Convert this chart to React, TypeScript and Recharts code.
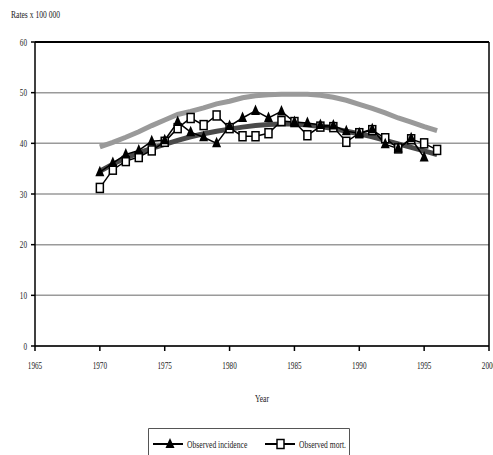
import {
  LineChart,
  Line,
  XAxis,
  YAxis,
  CartesianGrid,
  Legend,
  ReferenceLine,
} from "recharts";

const years = [
  1970, 1971, 1972, 1973, 1974, 1975, 1976, 1977, 1978, 1979, 1980, 1981, 1982,
  1983, 1984, 1985, 1986, 1987, 1988, 1989, 1990, 1991, 1992, 1993, 1994, 1995,
  1996,
];
const observedIncidence = [
  34.3, 36.1, 37.8, 38.6, 40.4, 40.6, 44.2, 42.2, 41.2, 40.0, 43.4, 45.0, 46.4,
  45.0, 46.3, 44.2, 44.0, 43.6, 43.5, 42.4, 42.0, 42.8, 39.8, 39.0, 41.0, 37.2,
  null,
];
const observedMortality = [
  31.2, 34.8, 36.5, 37.3, 38.6, 40.3, 43.0, 45.0, 43.6, 45.5, 43.0, 41.4, 41.4,
  42.0, 44.4, 44.2, 41.6, 43.3, 43.2, 40.3, 42.0, 42.6, 41.0, 39.0, 40.8, 40.0,
  38.7,
];
// thick grey curves (not in the legend)
const smoothDark = [
  34.5, 35.9, 37.1, 38.1, 39.0, 39.8, 40.6, 41.3, 41.9, 42.4, 42.8, 43.2, 43.5,
  43.7, 43.8, 43.8, 43.6, 43.3, 42.9, 42.4, 41.9, 41.3, 40.6, 39.9, 39.2, 38.5,
  37.8,
];
const smoothLight = [
  39.3, 40.2, 41.2, 42.3, 43.5, 44.6, 45.7, 46.3, 47.0, 47.8, 48.3, 49.0, 49.4,
  49.6, 49.7, 49.7, 49.7, 49.5, 49.1, 48.5, 47.7, 46.9, 46.0, 45.0, 44.2, 43.3,
  42.5,
];
const xTicks = [1965, 1970, 1975, 1980, 1985, 1990, 1995, 2000];
const yTicks = [0, 10, 20, 30, 40, 50, 60];
const legendOrder = ["incidence", "mortality"];

const data = years.map((year, i) => ({
  year,
  incidence: observedIncidence[i],
  mortality: observedMortality[i],
  dark: smoothDark[i],
  light: smoothLight[i],
}));

const FONT = "'Liberation Serif', 'Times New Roman', serif";
// the original text is horizontally squeezed
const SQUEEZE = 3.6;

function XTick(props: any) {
  const { x, y, payload } = props;
  const s = String(payload.value);
  return (
    <text x={x} y={y} dy="0.71em" textAnchor="middle" fontSize={10} fontFamily={FONT} fill="#222"
      textLength={s.length * SQUEEZE} lengthAdjust="spacingAndGlyphs">
      {s}
    </text>
  );
}

function YTick(props: any) {
  const { x, y, payload } = props;
  const s = String(payload.value);
  return (
    <text x={x} y={y} dy="0.355em" textAnchor="end" fontSize={10} fontFamily={FONT} fill="#222"
      textLength={s.length * SQUEEZE} lengthAdjust="spacingAndGlyphs">
      {s}
    </text>
  );
}

function TriangleDot(props: any) {
  const { cx, cy, value, index } = props;
  if (cx == null || cy == null || value == null) return <g key={`t-${index}`} />;
  return (
    <path key={`t-${index}`} d={`M${cx},${cy - 6.5} L${cx + 4.5},${cy + 4} L${cx - 4.5},${cy + 4} Z`} fill="#000" />
  );
}

function SquareDot(props: any) {
  const { cx, cy, value, index } = props;
  if (cx == null || cy == null || value == null) return <g key={`s-${index}`} />;
  return (
    <rect key={`s-${index}`} x={cx - 3.5} y={cy - 4.5} width={7} height={9} fill="#fff" stroke="#000" strokeWidth={1.5} />
  );
}

function LegendBox(props: any) {
  const items = (props.payload || [])
    .filter((p: any) => p.type !== "none")
    .sort((a: any, b: any) => legendOrder.indexOf(a.dataKey) - legendOrder.indexOf(b.dataKey));
  return (
    <svg width={202} height={27} style={{ display: "block", overflow: "visible" }}>
      {/* box is cut by the bottom of the picture, so no bottom edge */}
      <path d="M0.5,27 V0.5 H201.5 V27" fill="#fff" stroke="#555" />
      {items.map((p: any, i: number) => {
        const ox = 5 + i * 112;
        const label = String(p.value);
        return (
          <g key={label}>
            <line x1={ox} x2={ox + 30} y1={16} y2={16} stroke="#000" strokeWidth={2} />
            {p.dataKey === "incidence" ? (
              <path d={`M${ox + 17},${10} L${ox + 21.5},${20} L${ox + 12.5},${20} Z`} fill="#000" />
            ) : (
              <rect x={ox + 12} y={11.5} width={7} height={9} fill="#fff" stroke="#000" strokeWidth={1.5} />
            )}
            <text x={ox + 34} y={16} dy="0.355em" fontSize={10} fontFamily={FONT} fill="#222"
              textLength={label.length * 3.35} lengthAdjust="spacingAndGlyphs">
              {label}
            </text>
          </g>
        );
      })}
    </svg>
  );
}

export default function App() {
  return (
    <div style={{ position: "absolute", left: 0, top: 0, background: "#fff" }}>
      <LineChart width={493} height={455} data={data} margin={{ top: 42, right: 4, bottom: 0, left: 0 }}>
        <CartesianGrid horizontal vertical={false} stroke="#9a9a9a" strokeWidth={1.5} />
        <XAxis
          dataKey="year"
          type="number"
          domain={[1965, 2000]}
          ticks={xTicks}
          interval={0}
          allowDataOverflow
          height={82}
          stroke="#000"
          strokeWidth={1.5}
          tickSize={5}
          tickMargin={11}
          tick={<XTick />}
          label={(p: any) => (
            <text x={p.viewBox.x + p.viewBox.width / 2} y={p.viewBox.y + 52} dy="0.355em" textAnchor="middle"
              fontSize={10} fontFamily={FONT} fill="#222" textLength={14} lengthAdjust="spacingAndGlyphs">
              Year
            </text>
          )}
        />
        <YAxis
          type="number"
          domain={[0, 60]}
          ticks={yTicks}
          interval={0}
          width={35}
          stroke="#000"
          strokeWidth={1.5}
          tickSize={4}
          tickMargin={4}
          tick={<YTick />}
          label={(p: any) => (
            <text x={p.viewBox.x + 11} y={p.viewBox.y - 28} dy="0.355em" fontSize={10} fontFamily={FONT} fill="#222"
              textLength={49} lengthAdjust="spacingAndGlyphs">
              Rates x 100 000
            </text>
          )}
        />
        <ReferenceLine y={60} stroke="#000" strokeWidth={2} />
        <ReferenceLine x={2000} stroke="#000" strokeWidth={1.5} />
        <Line dataKey="light" stroke="#9a9a9a" strokeWidth={5} dot={false} legendType="none" isAnimationActive={false} />
        <Line dataKey="dark" stroke="#4a4a4a" strokeWidth={5} dot={false} legendType="none" isAnimationActive={false} />
        <Line name="Observed mort." dataKey="mortality" stroke="#000" strokeWidth={1.5} dot={<SquareDot />}
          isAnimationActive={false} />
        <Line name="Observed incidence" dataKey="incidence" stroke="#000" strokeWidth={1.5} dot={<TriangleDot />}
          isAnimationActive={false} />
        <Legend
          verticalAlign="bottom"
          content={<LegendBox />}
          wrapperStyle={{ left: 148, width: 202, height: 27 }}
        />
      </LineChart>
    </div>
  );
}
